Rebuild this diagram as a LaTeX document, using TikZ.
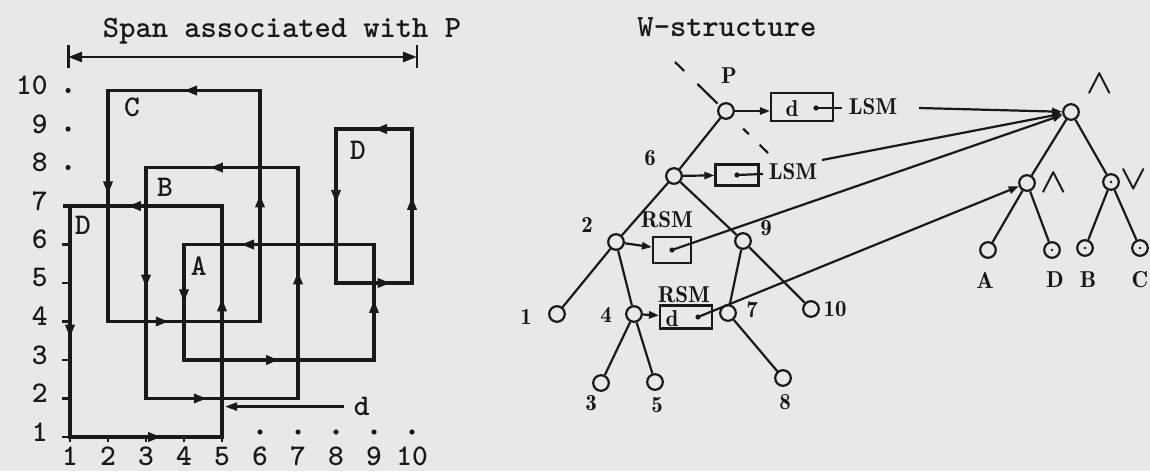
\documentclass[tikz,border=0pt]{standalone}
\usetikzlibrary{arrows.meta,positioning,decorations.markings}
\definecolor{paper}{gray}{0.91}
\definecolor{ink}{gray}{0.1}

\begin{document}
\begin{tikzpicture}[
    x=0.5pt,y=-0.5pt,
    loopline/.style={line width=1.8pt,line cap=rect,ink},
    tipat/.style={postaction={decorate},decoration={markings,
        mark=at position #1 with {\arrow{Triangle[length=6.5pt,width=4.5pt]}}}},
    treeline/.style={line width=1.1pt,ink},
    arr/.style={treeline,-{Triangle[length=5pt,width=3.6pt]}},
    cutline/.style={treeline,dash pattern=on 6.4pt off 9.3pt on 14pt off 18pt on 4pt off 7.5pt on 8pt off 10pt},
    vtx/.style={circle,draw=ink,fill=paper,line width=1.1pt,minimum size=7.8pt,inner sep=0pt},
    cell/.style={draw=ink,line width=1.1pt,inner sep=0pt},
    pip/.style={circle,fill=ink,inner sep=0pt,minimum size=2.6pt},
    speck/.style={circle,fill=ink,inner sep=0pt,minimum size=1.4pt},
    lbl/.style={font=\fontsize{11.5}{13}\fontseries{b}\selectfont,text=ink,inner sep=0pt},
    opl/.style={font=\fontsize{17}{19}\selectfont\boldmath,text=ink,inner sep=0pt},
    ttlbl/.style={font=\fontsize{15.5}{17}\ttfamily\fontseries{b}\selectfont,text=ink,inner sep=0pt},
    axnum/.style={font=\fontsize{15}{17}\ttfamily\fontseries{b}\selectfont,text=ink,inner sep=0pt}
  ]
  \fill[paper] (0,0) rectangle (1150,471);
  \useasboundingbox (0,0) rectangle (1150,471);

  % SPAN
  \node[ttlbl,anchor=base] (spantitle) at (282,37) {Span associated with P};
  \begin{scope}[shift={(32,475.5)},x=19pt,y=19.25pt]
    % axes
    \foreach \r in {1,...,6} \draw[treeline,line width=1.3pt] (0.8,\r) -- (1,\r);
    \foreach \c in {1,...,5} \draw[treeline,line width=1.3pt] (\c,1) -- (\c,0.86);
    \foreach \r in {8,9,10} \fill[ink] (0.95,\r) circle (1.3pt);
    \foreach \c in {6,...,10} \fill[ink] (\c,1.13) circle (1.3pt);
    \foreach \r in {1,...,10} \node[axnum,anchor=east] (ynum\r) at (0.42,\r+0.13) {\r};
    \foreach \c in {1,...,10} \node[axnum] (xnum\c) at (\c,0.5) {\c};

    % span bar
    \coordinate (spanL) at (0.95,10.87);
    \coordinate (spanR) at (10.13,10.87);
    \draw[treeline,line width=1.4pt,{Triangle[length=7pt,width=5pt]}-{Triangle[length=7pt,width=5pt]}] (spanL) -- (spanR);
    \draw[treeline,line width=1.4pt] ([yshift=6pt]spanL) -- ([yshift=-5.5pt]spanL);
    \draw[treeline,line width=1.4pt] ([yshift=6pt]spanR) -- ([yshift=-5.5pt]spanR);

    % D (left)
    \draw[loopline,tipat=0.6] (1,1) -- (5,1);
    \draw[loopline,tipat=0.6] (5,1) -- (5,7);
    \draw[loopline,tipat=0.6] (5,7) -- (0.87,7);
    \draw[loopline,tipat=0.57] (1,7) -- (1,1);
    % C
    \draw[loopline,tipat=0.5] (6,10) -- (2,10);
    \draw[loopline,tipat=0.45] (2,10) -- (2,4);
    \draw[loopline,tipat=0.4] (2,4) -- (6,4);
    \draw[loopline,tipat=0.55] (6,4) -- (6,10);
    % B
    \draw[loopline,tipat=0.58] (7,8) -- (3,8);
    \draw[loopline,tipat=0.52] (3,8) -- (3,2);
    \draw[loopline,tipat=0.4] (3,2) -- (7,2);
    \draw[loopline,tipat=0.55] (7,2) -- (7,8);
    % A
    \draw[loopline,tipat=0.7] (9,6) -- (4,6);
    \draw[loopline,tipat=0.5] (4,6) -- (4,3);
    \draw[loopline,tipat=0.5] (4,3) -- (9,3);
    \draw[loopline,tipat=0.52] (9,3) -- (9,6);
    % D (right)
    \draw[loopline,tipat=0.5] (10,9) -- (8,9);
    \draw[loopline,tipat=0.48] (8,9) -- (8,5);
    \draw[loopline,tipat=0.72] (8,5) -- (10,5);
    \draw[loopline,tipat=0.56] (10,5) -- (10,9);

    \node[axnum] (labC) at (2.63,9.57) {C};
    \node[axnum] (labB) at (3.5,7.49) {B};
    \node[axnum] (labA) at (4.39,5.44) {A};
    \node[axnum] (labDl) at (1.34,6.51) {D};
    \node[axnum] (labDr) at (8.58,8.45) {D};
    \node[axnum] (labd) at (8.68,1.79) {d};
    \coordinate (dhit) at (5.08,1.79);
    \draw[treeline,-{Triangle[length=6pt,width=4pt]}] ([xshift=-5pt]labd.west) -- (dhit);
  \end{scope}

  % W-STRUCTURE
  \node[ttlbl,anchor=base] (wtitle) at (727,36) {W-structure};

  \coordinate (cutA) at (675,62);
  \coordinate (cutB) at (768,153);
  \draw[cutline] (cutA) -- (cutB);

  \node[vtx] (P) at (726,111) {};
  \node[vtx] (n6) at (674,176) {};
  \node[vtx] (n2) at (616,242) {};
  \node[vtx] (n9) at (743,241) {};
  \node[vtx] (n1) at (557,314) {};
  \node[vtx] (n4) at (634,314) {};
  \node[vtx] (n7) at (728,313) {};
  \node[vtx] (n10) at (811,309) {};
  \node[vtx] (n3) at (601,383) {};
  \node[vtx] (n5) at (655,382) {};
  \node[vtx] (n8) at (783,378) {};

  \node[lbl] (lP) at (729,76) {P};
  \node[lbl] (l6) at (650,158) {6};
  \node[lbl] (l2) at (587,225) {2};
  \node[lbl] (l9) at (766,228) {9};
  \node[lbl] (l1) at (526,317) {1};
  \node[lbl] (l4) at (606,315) {4};
  \node[lbl] (l7) at (752,310) {7};
  \node[lbl] (l10) at (835,309) {10};
  \node[lbl] (l3) at (591,403) {3};
  \node[lbl] (l5) at (657,405) {5};
  \node[lbl] (l8) at (785,402) {8};

  \draw[treeline] (P) -- (n6);
  \foreach \a/\b in {n6/n2,n6/n9,n2/n1,n2/n4,n9/n7,n9/n10,n4/n3,n4/n5,n7/n8}
    \draw[treeline] (\a) -- (\b);

  % boxes
  \node[cell,minimum width=31pt,minimum height=14pt] (boxP) at (802,107) {};
  \node[lbl] (dP) at (792,109) {d};
  \node[pip] (ptP) at (816,108) {};
  \coordinate (tailP) at (842,108);
  \draw[treeline] (ptP.center) -- (tailP);
  \node[lbl] (lsmP) at (873,107) {LSM};
  \draw[arr] (P) -- (P -| boxP.west);

  \node[cell,minimum width=21.5pt,minimum height=10.5pt] (box6) at (737,175) {};
  \node[pip] (pt6) at (box6.center) {};
  \coordinate (tail6) at (763,174);
  \draw[treeline] (pt6.center) -- (tail6);
  \node[lbl] (lsm6) at (793,172) {LSM};
  \draw[arr] (n6) -- (box6);

  \node[cell,minimum width=19pt,minimum height=13pt] (box2) at (672,250) {};
  \node[pip] (pt2) at (box2.center) {};
  \node[lbl] (rsm2) at (667,220) {RSM};
  \draw[arr] (n2) -- (box2);

  \node[cell,minimum width=26pt,minimum height=11.5pt] (box4) at (686,317) {};
  \node[lbl] (d4) at (672,319) {d};
  \node[pip] (pt4) at (698,317) {};
  \node[lbl] (rsm4) at (684,295) {RSM};
  \draw[arr] (n4) -- (box4);

  % condition tree
  \node[vtx] (rand) at (1071,112) {};
  \node[vtx] (cand) at (1027,183) {};
  \node[vtx] (cor) at (1111,182) {};
  \node[vtx] (lA) at (988,250) {};
  \node[vtx] (lD) at (1052,250) {};
  \node[vtx] (lB) at (1085,248) {};
  \node[vtx] (lC) at (1140,248) {};
  \foreach \n in {cor,lD,lB,lC} \node[speck] (sp\n) at (\n.center) {};

  \node[opl] (orand) at (1100,84) {$\wedge$};
  \node[opl] (ocand) at (1054,183) {$\wedge$};
  \node[opl] (ocor) at (1134,180) {$\vee$};
  \node[lbl] (tA) at (985,280) {A};
  \node[lbl] (tD) at (1055,280) {D};
  \node[lbl] (tB) at (1088,280) {B};
  \node[lbl] (tC) at (1140,280) {C};

  \foreach \a/\b in {rand/cand,rand/cor,cand/lA,cand/lD,cor/lB,cor/lC}
    \draw[treeline] (\a) -- (\b);

  % links into the tree
  \coordinate (fromP) at (919,108);
  \coordinate (from6) at (822,160);
  \draw[arr] (fromP) -- (rand);
  \draw[arr] (from6) -- (rand);
  \draw[arr] (pt2.center) -- (rand);
  \draw[arr] (pt4.center) -- (cand);
\end{tikzpicture}
\end{document}
